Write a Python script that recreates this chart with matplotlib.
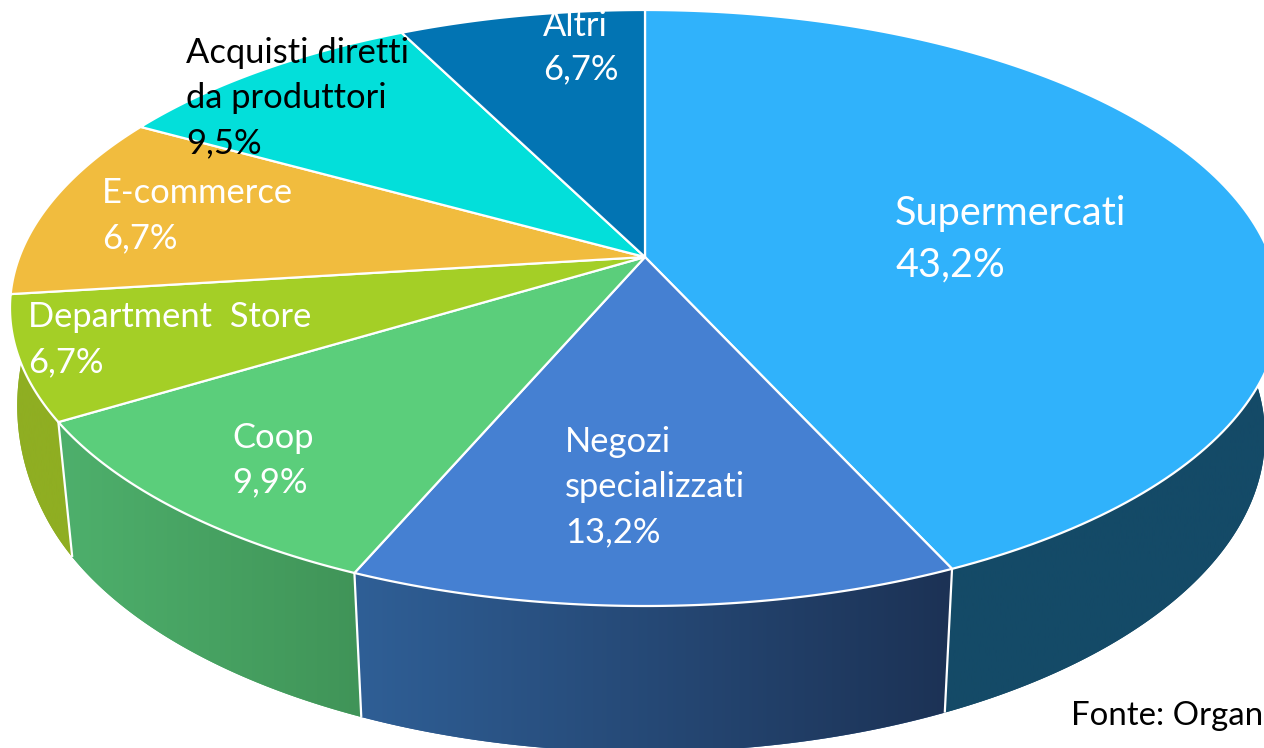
import matplotlib
matplotlib.use('Agg')
import matplotlib.pyplot as plt
import numpy as np
from matplotlib.patches import Polygon

plt.rcParams['font.family'] = ['Lato', 'DejaVu Sans']

# slice shares as drawn, clockwise from 12 o'clock (the printed labels differ a bit)
categories = ['Supermercati', 'Negozi specializzati', 'Coop', 'Department Store',
              'E-commerce', 'Acquisti diretti da produttori', 'Altri']
shares = [43.2, 13.2, 9.9, 6.7, 10.1, 9.5, 7.4]
top_colors = ['#30B2FB', '#4580D2', '#5BCE7B', '#A4CF26', '#F1BC3E', '#03DFDA', '#0274B3']

# side wall colours, left end and right end of the gradient
wall_left = ['#144A67', '#2F5F96', '#4EB06C', '#8FAE22', None, None, None]
wall_right = ['#144A67', '#1C3255', '#409458', '#8FAE22', None, None, None]

label_lines = [['Supermercati', '43,2%'],
               ['Negozi', 'specializzati', '13,2%'],
               ['Coop', '9,9%'],
               ['Department  Store', '6,7%'],
               ['E-commerce', '6,7%'],
               ['Acquisti diretti', 'da produttori', '9,5%'],
               ['Altri', '6,7%']]
label_x = [895, 565, 232, 28, 102, 186, 543]
label_y = [225, 452, 448, 327, 203, 63, 36]
label_gap = [51, 45, 44, 45, 45, 45, 43]
label_size = [28.5, 24.8, 24.8, 24.8, 24.8, 24.8, 24.8]
label_color = ['white', 'white', 'white', 'white', 'white', 'black', 'white']

TILT = 0.171  # how far the hub sits above the middle of the ellipse


def rim(theta, cx, cy, a, b):
    # perspective view of a circle, angle clockwise from the top
    u, v = np.sin(theta), np.cos(theta)
    d = 1 + TILT * v
    xx = u * np.sqrt(1 - TILT ** 2) / d
    yy = (v + TILT) / d
    return cx + a * xx, cy - b * yy


upper = (645, 308, 635, 298)
lower = (645, 436, 620, 316)
hub = (645, 308 - 298 * TILT)

fig = plt.figure(figsize=(12.64, 7.48), dpi=100)
ax = fig.add_axes([0, 0, 1, 1])
ax.set_xlim(0, 1264)
ax.set_ylim(748, 0)
ax.axis('off')

edges = 2 * np.pi * np.cumsum([0] + shares) / sum(shares)

# walls first, only the slices that face the viewer
for i in range(4):
    t0, t1 = edges[i], edges[i + 1]
    if i == 0:
        t0 = np.radians(70)
    if i == 3:
        t1 = np.radians(280)
    tt = np.linspace(t0, t1, 120)
    ux, uy = rim(tt, *upper)
    lx, ly = rim(tt, *lower)
    if i == 3:
        # the far left of the wall bulges out a little in the original
        lx = lx - 0.025 * np.clip(np.degrees(tt) - 245, 0, None) ** 2
    pts = np.vstack([np.column_stack([ux, uy]), np.column_stack([lx, ly])[::-1]])
    poly = Polygon(pts, closed=True, fc=wall_left[i], ec='none', zorder=1)
    ax.add_patch(poly)
    c0 = np.array(matplotlib.colors.to_rgb(wall_left[i]))
    c1 = np.array(matplotlib.colors.to_rgb(wall_right[i]))
    ramp = np.linspace(c0, c1, 200).reshape(1, 200, 3)
    # left to right across the slice, whichever way the angle runs
    x0, x1 = pts[:, 0].min(), pts[:, 0].max()
    im = ax.imshow(ramp, extent=[x0, x1, 748, 0], aspect='auto', zorder=1.1)
    im.set_clip_path(poly)

ax.set_xlim(0, 1264)
ax.set_ylim(748, 0)

# seams between the walls
for i in range(1, 4):
    ux, uy = rim(edges[i], *upper)
    lx, ly = rim(edges[i], *lower)
    ax.plot([ux, lx], [uy, ly], color='white', lw=1.6, zorder=2, solid_capstyle='butt')

# top face
for i, col in enumerate(top_colors):
    tt = np.linspace(edges[i], edges[i + 1], 150)
    ux, uy = rim(tt, *upper)
    xs = np.concatenate([[hub[0]], ux])
    ys = np.concatenate([[hub[1]], uy])
    ax.add_patch(Polygon(np.column_stack([xs, ys]), closed=True, fc=col,
                         ec='white', lw=1.6, joinstyle='round', zorder=3))

for lines, x, y, gap, size, col in zip(label_lines, label_x, label_y, label_gap,
                                       label_size, label_color):
    for n, line in enumerate(lines):
        ax.text(x, y + n * gap, line, color=col, fontsize=size, ha='left',
                va='baseline', zorder=5)

ax.text(1071, 725, 'Fonte: Organ', color='black', fontsize=23.8, ha='left',
        va='baseline', zorder=5)

fig.savefig('out.png', dpi=100)
